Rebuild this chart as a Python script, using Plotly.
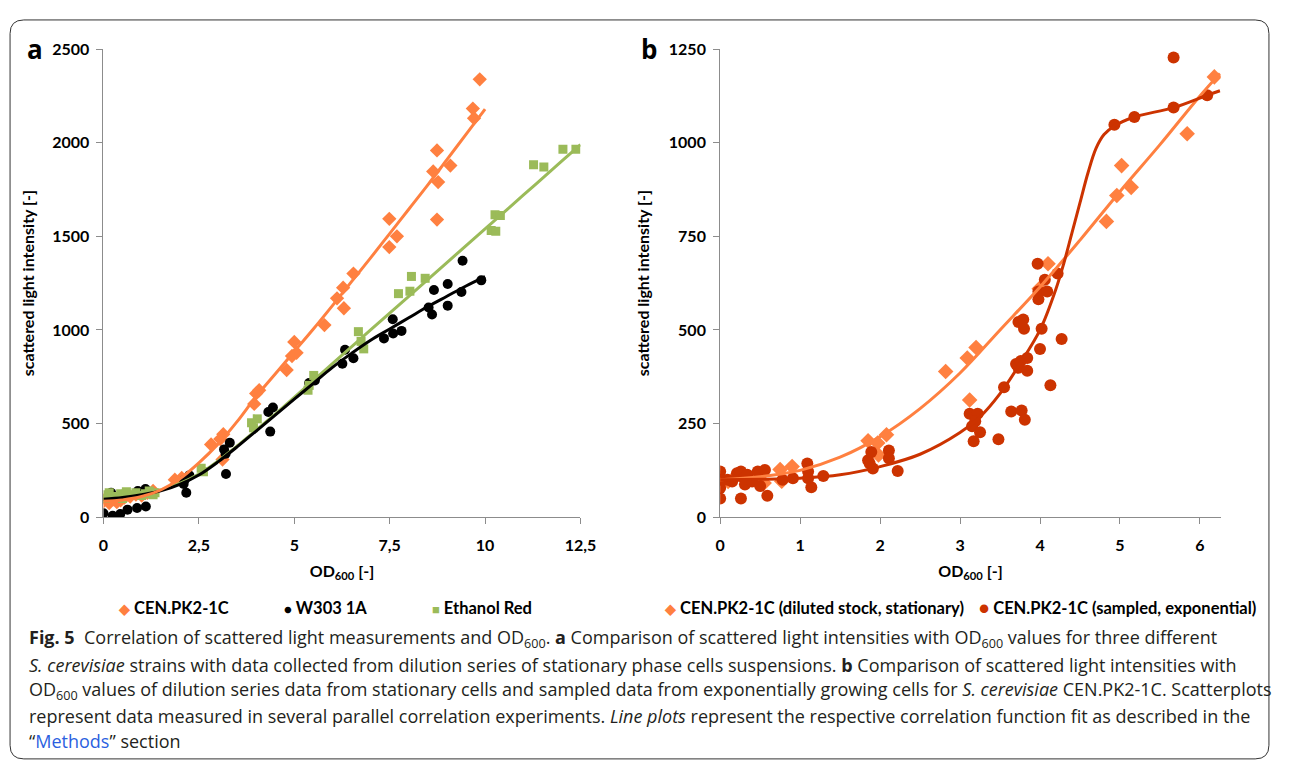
import plotly.graph_objects as go

# ---------------- Panel a data ----------------
cen_x = [0.0,0.05,0.15,0.25,0.35,0.45,0.55,0.7,0.85,1.0,1.15,1.3,1.87,2.05,2.82,3.06,3.14,3.12,3.95,4.0,4.08,
         4.8,4.94,5.0,5.06,5.79,6.12,6.28,6.3,6.55,7.49,7.49,7.69,8.64,8.74,8.77,8.74,9.09,9.68,9.71,9.86]
cen_y = [85,100,75,95,80,90,105,110,120,115,130,140,200,209,388,417,443,308,605,661,678,
         786,861,936,878,1026,1169,1226,1116,1301,1594,1443,1500,1847,1959,1790,1590,1878,2183,2131,2339]

w303_x = [0,0.24,0.44,0.63,0.88,1.11,0.2,0.5,0.9,1.1,2.1,2.13,2.17,2.25,3.16,3.2,3.21,3.31,4.32,4.37,4.44,
          5.39,5.54,6.26,6.33,6.55,7.35,7.58,7.59,7.81,8.52,8.61,8.66,9.02,9.02,9.38,9.41,9.9]
w303_y = [21,7,17,40,49,57,130,120,140,150,177,200,130,223,362,339,230,397,562,457,586,
          717,730,819,894,849,955,1057,981,995,1120,1083,1213,1130,1246,1203,1370,1265]

eth_x = [0.0,0.05,0.15,0.3,0.45,0.5,0.6,0.75,0.85,1.0,1.1,1.2,1.3,1.35,2.56,2.62,3.88,3.93,4.03,5.36,5.39,5.51,
         6.68,6.75,6.82,7.73,8.03,8.07,8.43,10.16,10.26,10.28,10.4,11.27,11.54,12.04,12.38]
eth_y = [120,100,130,110,125,100,135,120,130,115,125,140,120,130,261,243,504,478,525,678,704,757,
         991,939,899,1194,1207,1286,1276,1532,1616,1528,1612,1883,1871,1966,1966]

# fitted curves
cen_fit_x = [0,0.5,1,1.5,2,2.5,3,3.5,4,4.5,5,5.5,6,6.5,7,7.5,8,8.5,9,9.5,10]
cen_fit_y = [85,92,110,145,205,290,390,510,645,765,885,1005,1130,1258,1385,1515,1645,1775,1910,2045,2180]
w303_fit_x = [0,0.5,1,1.5,2,2.5,3,3.5,4,4.5,5,5.5,6,6.5,7,7.5,8,8.5,9,9.5,10]
w303_fit_y = [95,105,120,140,175,225,295,375,460,545,630,715,800,875,945,1005,1065,1125,1180,1235,1285]
eth_fit_x = [0,0.5,1,1.5,2,2.5,3,3.5,4,4.5,5,5.5,6,7,8,9,10,11,12,12.5]
eth_fit_y = [110,115,125,145,180,230,300,380,465,550,640,730,820,1000,1180,1360,1540,1720,1900,1990]

# ---------------- Panel b data ----------------
stat_x = [0,0.1,0.2,0.35,0.45,0.55,0.75,0.77,0.9,1.85,1.97,1.98,2.08,2.82,3.09,3.12,3.2,3.99,4.1,
          4.83,4.96,5.02,5.14,5.84,6.18]
stat_y = [105,95,110,100,105,91,127,96,135,204,198,166,220,389,425,313,453,610,677,
          790,859,939,881,1024,1176]

expo_x = [0,0,0,0,0.09,0.15,0.21,0.25,0.26,0.26,0.3,0.31,0.34,0.4,0.47,0.5,0.56,0.59,0.78,0.91,1.09,1.1,1.1,1.14,1.29,
          1.85,1.87,1.89,1.91,2.11,2.11,2.22,3.12,3.22,3.19,3.15,3.25,3.17,3.48,3.55,3.64,3.77,3.81,
          3.7,3.73,3.76,3.84,3.84,3.73,3.79,3.8,3.98,3.98,3.97,4.0,4.02,4.06,4.09,4.13,4.22,4.27,
          4.93,5.18,5.67,5.67,6.09]
expo_y = [122,100,78,50,100,95,117,110,50,122,105,87,113,95,122,83,126,57,100,104,143,122,104,80,110,
          152,143,174,130,178,157,123,276,276,256,243,227,203,208,347,282,285,260,
          409,399,417,425,391,521,528,503,603,582,677,449,503,634,603,352,651,476,
          1048,1069,1094,1228,1127]

stat_fit_x = [0,0.5,1,1.5,2,2.5,3,3.5,4,4.5,5,5.5,6,6.25]
stat_fit_y = [100,108,125,160,215,290,385,500,615,740,870,995,1125,1185]
expo_fit_x = [0,0.5,1,1.5,2,2.5,3,3.25,3.5,3.75,4,4.2,4.3,4.4,4.5,4.6,4.7,4.8,4.93,5.18,5.67,6.09,6.25]
expo_fit_y = [100,101,104,113,135,168,226,268,330,410,500,610,680,760,840,920,985,1022,1045,1069,1094,1127,1139]

ticks_a = [0, 2.5, 5, 7.5, 10, 12.5]
ticks_a_text = ["0", "2,5", "5", "7,5", "10", "12,5"]
legend_a = ["CEN.PK2-1C", "W303 1A", "Ethanol Red"]
legend_b = ["CEN.PK2-1C (diluted stock, stationary)", "CEN.PK2-1C (sampled, exponential)"]

C_CEN = "#FF8040"
C_ETH = "#9BBB59"
C_BLK = "#000000"
C_EXP = "#CC3300"

# page has an 8px body margin; figure = window minus margins
OFF = 8
FW, FH = 1290 - 2 * OFF, 772 - 2 * OFF
def px(x):
    return (x - OFF) / FW
def py(y):
    return 1 - (y - OFF) / FH

fig = go.Figure()

def add(x, y, mode, name, color, xa, ya, symbol=None, size=None):
    kw = dict(x=x, y=y, mode=mode, name=name, xaxis=xa, yaxis=ya, showlegend=False, hoverinfo="skip")
    if "markers" in mode:
        kw["marker"] = dict(symbol=symbol, size=size, color=color, line=dict(width=0))
    if "lines" in mode:
        kw["line"] = dict(color=color, width=3, shape="spline", smoothing=1.0)
    fig.add_trace(go.Scatter(**kw))

# panel a
add(cen_x, cen_y, "markers", legend_a[0], C_CEN, "x", "y", "diamond", 11)
add(w303_x, w303_y, "markers", legend_a[1], C_BLK, "x", "y", "circle", 10)
add(eth_x, eth_y, "markers", legend_a[2], C_ETH, "x", "y", "square", 9)
add(eth_fit_x, eth_fit_y, "lines", "fit " + legend_a[2], C_ETH, "x", "y")
add(w303_fit_x, w303_fit_y, "lines", "fit " + legend_a[1], C_BLK, "x", "y")
add(cen_fit_x, cen_fit_y, "lines", "fit " + legend_a[0], C_CEN, "x", "y")

# panel b
add(stat_x, stat_y, "markers", legend_b[0], C_CEN, "x2", "y2", "diamond", 12)
add(expo_x, expo_y, "markers", legend_b[1], C_EXP, "x2", "y2", "circle", 12)
add(stat_fit_x, stat_fit_y, "lines", "fit " + legend_b[0], C_CEN, "x2", "y2")
add(expo_fit_x, expo_fit_y, "lines", "fit " + legend_b[1], C_EXP, "x2", "y2")

FONT = "Lato"
axcol = "#8C8C8C"
tickfont = dict(family=FONT, size=16, color="black", weight="bold")
titlefont = dict(family=FONT, size=16, color="black", weight="bold")

common = dict(showgrid=False, zeroline=False, showline=True, linecolor=axcol, linewidth=1,
              ticks="outside", ticklen=6, tickcolor=axcol, tickwidth=1, tickfont=tickfont)

fig.update_layout(
    width=FW, height=FH, margin=dict(l=0, r=0, t=0, b=0),
    paper_bgcolor="white", plot_bgcolor="white", showlegend=False,
    xaxis=dict(domain=[px(100), px(585)], range=[0, 12.5], tickvals=ticks_a, ticktext=ticks_a_text,
               anchor="y", ticklabelstandoff=8,
               title=dict(text="OD<sub>600</sub> [-]", font=titlefont, standoff=12), **common),
    yaxis=dict(domain=[py(520), py(40)], range=[0, 2500], tickvals=[0,500,1000,1500,2000,2500],
               anchor="x", ticklabelstandoff=4,
               title=dict(text="scattered light intensity [-]", font=titlefont, standoff=13), **common),
    xaxis2=dict(domain=[px(727), px(1236)], range=[0, 6.26], tickvals=[0,1,2,3,4,5,6],
                anchor="y2", ticklabelstandoff=8,
                title=dict(text="OD<sub>600</sub> [-]", font=titlefont, standoff=12), **common),
    yaxis2=dict(domain=[py(520), py(40)], range=[0, 1250], tickvals=[0,250,500,750,1000,1250],
                anchor="x2", ticklabelstandoff=4,
                title=dict(text="scattered light intensity [-]", font=titlefont, standoff=15), **common),
)

# legends (symbol + label)
lfont = dict(family=FONT, size=16.5, color="black", weight="bold")
leg_items = [
    (113, "\u25C6", C_CEN, legend_a[0], 14),
    (281, "\u25CF", C_BLK, legend_a[1], 13),
    (432, "\u25A0", C_ETH, legend_a[2], 13),
    (668, "\u25C6", C_CEN, legend_b[0], 14),
    (988, "\u25CF", C_EXP, legend_b[1], 17),
]
for x0, sym, col, label, ssize in leg_items:
    fig.add_annotation(
        text=f"<span style='color:{col};font-size:{ssize}px'>{sym}</span> {label}",
        x=px(x0), y=py(613), xref="paper", yref="paper", showarrow=False,
        xanchor="left", yanchor="middle", font=lfont)

# panel letters
for letter, lx in (("a", 30), ("b", 655)):
    fig.add_annotation(text=f"<b>{letter}</b>", x=px(lx), y=py(40), xref="paper", yref="paper",
                       showarrow=False, font=dict(family="Open Sans", size=26, color="black"),
                       xanchor="center", yanchor="middle")

# caption
cap_font = dict(family="Open Sans", size=18, color="#231F20")
caption_lines = [
    "<b>Fig. 5</b>  Correlation of scattered light measurements and OD<sub>600</sub>. <b>a</b> Comparison of scattered light intensities with OD<sub>600</sub> values for three different",
    "<i>S. cerevisiae</i> strains with data collected from dilution series of stationary phase cells suspensions. <b>b</b> Comparison of scattered light intensities with",
    "OD<sub>600</sub> values of dilution series data from stationary cells and sampled data from exponentially growing cells for <i>S. cerevisiae</i> CEN.PK2-1C. Scatterplots",
    "represent data measured in several parallel correlation experiments. <i>Line plots</i> represent the respective correlation function fit as described in the",
    "\u201c<span style='color:#2B5FE0'>Methods</span>\u201d section",
]
cap_y = [645, 672, 698, 724, 750]
for t, yy in zip(caption_lines, cap_y):
    fig.add_annotation(text=t, x=px(22), y=py(yy), xref="paper", yref="paper", showarrow=False,
                       xanchor="left", yanchor="middle", align="left", font=cap_font)

# rounded border
x0, x1, y0, y1 = px(5), px(1285), py(10), py(768)
rx, ry = 14 / FW, 14 / FH
path = (f"M {x0+rx},{y0} L {x1-rx},{y0} Q {x1},{y0} {x1},{y0-ry} L {x1},{y1+ry} Q {x1},{y1} {x1-rx},{y1} "
        f"L {x0+rx},{y1} Q {x0},{y1} {x0},{y1+ry} L {x0},{y0-ry} Q {x0},{y0} {x0+rx},{y0} Z")
fig.add_shape(type="path", path=path, xref="paper", yref="paper", line=dict(color="#333333", width=1))

fig.write_html("out.html", config={"displayModeBar": False})
